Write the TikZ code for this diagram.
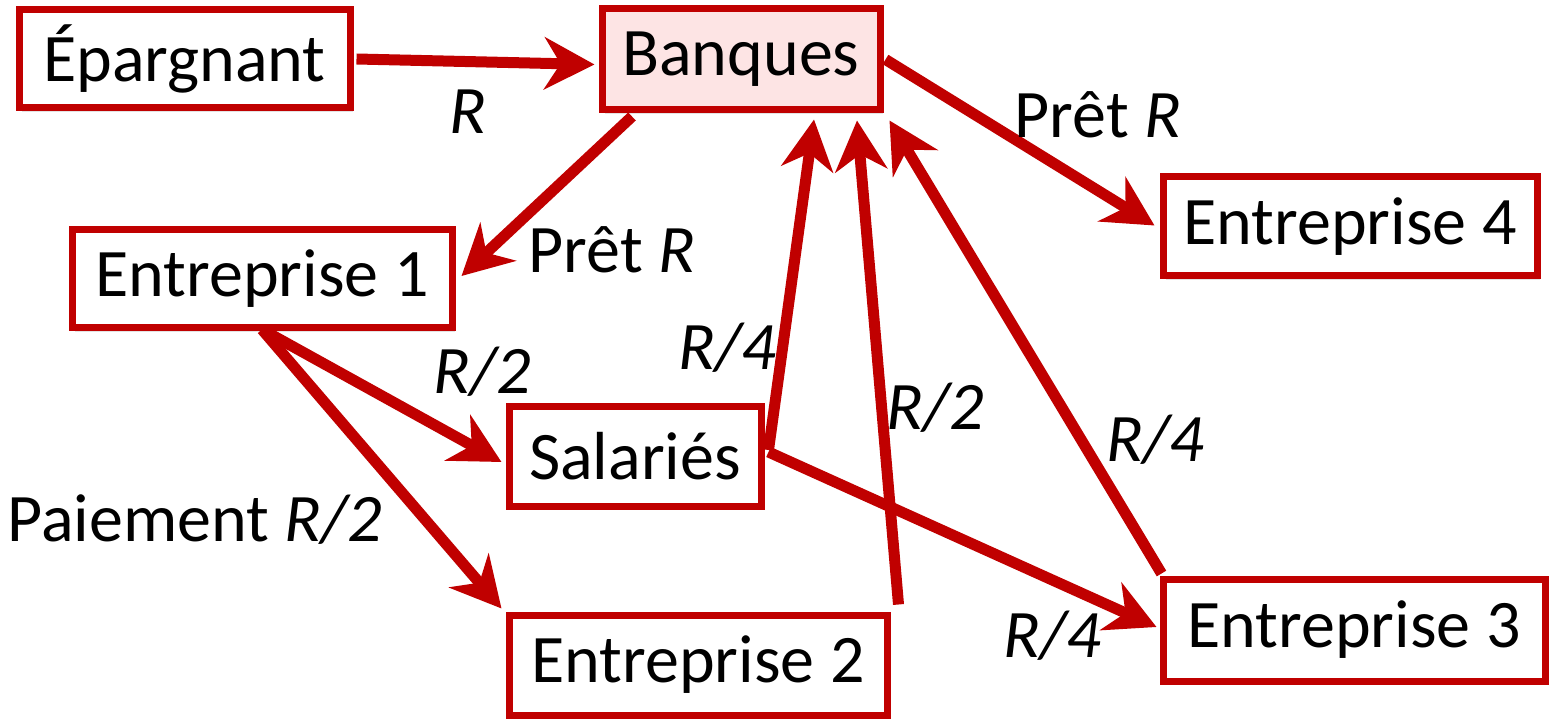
\documentclass[tikz,border=0pt]{standalone}
\usepackage{fontspec}
\setmainfont{Carlito}
\usetikzlibrary{arrows.meta,shadows}
\definecolor{dred}{HTML}{C00000}
\definecolor{pinkfill}{HTML}{FDE4E4}
\tikzset{
  box/.style={draw=dred, line width=7pt, fill=white, inner sep=0pt,
    drop shadow={opacity=0.22, shadow xshift=3pt, shadow yshift=-4pt},
    font=\fontsize{68}{80}\selectfont},
  flow/.style={draw=dred, line width=11pt,
    -{Stealth[length=50pt,width=52pt,inset=16pt]}},
  lbl/.style={font=\fontsize{68}{80}\selectfont, inner sep=0pt}
}
\begin{document}
\begin{tikzpicture}[x=1pt,y=-1pt]
\useasboundingbox (0,0) rectangle (1556,719);
\node[box, minimum width=331pt, minimum height=98pt] (ep) at (184.5,59) {Épargnant};
\node[box, fill=pinkfill, minimum width=278pt, minimum height=101pt] (bq) at (741,59.5) {Banques};
\node[box, minimum width=380pt, minimum height=98pt] (e1) at (262,279) {Entreprise 1};
\node[box, minimum width=374pt, minimum height=99pt] (e4) at (1350,226.5) {Entreprise 4};
\node[box, minimum width=252pt, minimum height=100pt] (sa) at (635,456) {Salariés};
\node[box, minimum width=378pt, minimum height=100pt] (e2) at (698,665) {Entreprise 2};
\node[box, minimum width=382pt, minimum height=102pt] (e3) at (1354,630) {Entreprise 3};

\draw[flow] ([xshift=3pt]ep.east) -- ([xshift=-4pt,yshift=-5pt]bq.west);
\draw[flow] ([xshift=-109pt,yshift=-3pt]bq.south) -- ([xshift=6pt,yshift=3pt]e1.east);
\draw[flow] ([xshift=2pt]bq.east) -- ([xshift=-5pt,yshift=1pt]e4.west);
\draw[flow] ([yshift=2pt]e1.south) -- ([xshift=-4pt,yshift=-6pt]sa.west);
\draw[flow] ([yshift=2pt]e1.south) -- ([xshift=-4pt,yshift=3pt]e2.north west);
\draw[flow] ([xshift=4pt,yshift=6pt]sa.east) -- ([xshift=73pt,yshift=-6pt]bq.south);
\draw[flow] ([xshift=8pt,yshift=7pt]e2.north east) -- ([xshift=116pt,yshift=-7pt]bq.south);
\draw[flow] ([xshift=2pt,yshift=2pt]e3.north west) -- ([xshift=6pt,yshift=-7pt]bq.south east);
\draw[flow] ([xshift=4pt,yshift=4pt]sa.east) -- ([xshift=-3pt,yshift=3pt]e3.west);

\node[lbl] (l1) at (468,112) {\textit{R}};
\node[lbl] (l2) at (612,250) {Prêt \textit{R}};
\node[lbl] (l3) at (1098,115) {Prêt \textit{R}};
\node[lbl] (l4) at (482,372) {\textit{R/2}};
\node[lbl] (l5) at (195,520) {Paiement \textit{R/2}};
\node[lbl] (l6) at (727,348) {\textit{R/4}};
\node[lbl] (l7) at (935,408) {\textit{R/2}};
\node[lbl] (l8) at (1155,440) {\textit{R/4}};
\node[lbl] (l9) at (1052,636) {\textit{R/4}};
\end{tikzpicture}
\end{document}
